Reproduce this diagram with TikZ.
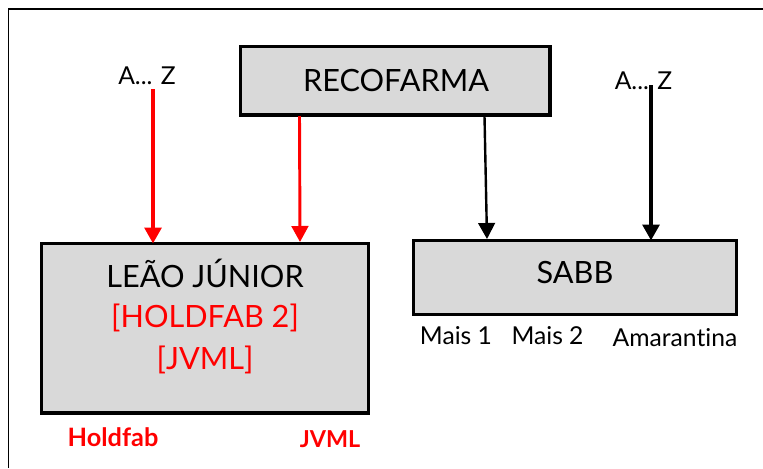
\documentclass[tikz,border=0pt]{standalone}
\usepackage{fontspec}
\setmainfont{Lato}[Ligatures=NoCommon]
\usetikzlibrary{arrows.meta}
\definecolor{boxgray}{RGB}{217,217,217}
\definecolor{pured}{RGB}{255,0,0}
\begin{document}
\begin{tikzpicture}[x=0.75pt,y=-0.75pt,
  entbox/.style={draw=black,line width=2.4pt,fill=boxgray,inner sep=0pt,outer sep=0pt},
  lbl/.style={inner sep=0pt,anchor=base},
  bigtxt/.style={lbl,font=\fontsize{23}{27}\selectfont},
  smalltxt/.style={lbl,font=\fontsize{18.5}{22}\selectfont},
  redsmall/.style={lbl,text=pured,font=\fontsize{19}{23}\selectfont\bfseries},
  tip/.style={-{Triangle[width=12.5pt,length=12pt]}},
]
\useasboundingbox (0,0) rectangle (763,468);
% frame
\coordinate (f0) at (8.5,468);
\coordinate (f1) at (8.5,9);
\coordinate (f2) at (763,9);
\draw[line width=1.1pt] (f0) -- (f1) -- (f2);
% boxes
\node[entbox,minimum width=309.5pt*0.75,minimum height=68.5pt*0.75,anchor=north west] (reco) at (240.5,46.5) {};
\node[entbox,minimum width=327pt*0.75,minimum height=169.5pt*0.75,anchor=north west] (leao) at (41.5,243.5) {};
\node[entbox,minimum width=323pt*0.75,minimum height=74pt*0.75,anchor=north west] (sabb) at (413.5,240.5) {};
% texts
\node[bigtxt] (recot) at (396,91) {RECOFARMA};
\node[bigtxt] (leaot) at (205,287) {LEÃO JÚNIOR};
\node[bigtxt,text=pured] (hold2) at (205,327) {[HOLDFAB 2]};
\node[bigtxt,text=pured] (jvmlt) at (205,369) {[JVML]};
\node[bigtxt] (sabbt) at (575,283) {SABB};
\node[smalltxt] (azl) at (147,84) {A... Z};
\node[smalltxt] (azr) at (643.5,89) {A... Z};
\node[smalltxt] (mais1) at (456,344) {Mais 1};
\node[smalltxt] (mais2) at (547.5,344) {Mais 2};
\node[smalltxt] (amar) at (675,346) {Amarantina};
\node[redsmall] (holdf) at (113,446) {Holdfab};
\node[redsmall,font=\fontsize{17.5}{21}\selectfont\bfseries] (jvmlb) at (330,447) {JVML};
% arrow start points
\coordinate (s1) at (153,89);
\coordinate (s2) at (299.5,116);
\coordinate (s3) at (484.5,116);
\coordinate (s4) at (651,85);
% connectors
\draw[tip,pured,line width=3.4pt] (s1) -- (s1 |- leao.north);
\draw[tip,pured,line width=2.2pt] (s2) -- (300,242);
\draw[tip,black,line width=1.8pt] (s3) -- (487,239);
\draw[tip,black,line width=3.4pt] (s4) -- (s4 |- sabb.north);
\end{tikzpicture}
\end{document}
